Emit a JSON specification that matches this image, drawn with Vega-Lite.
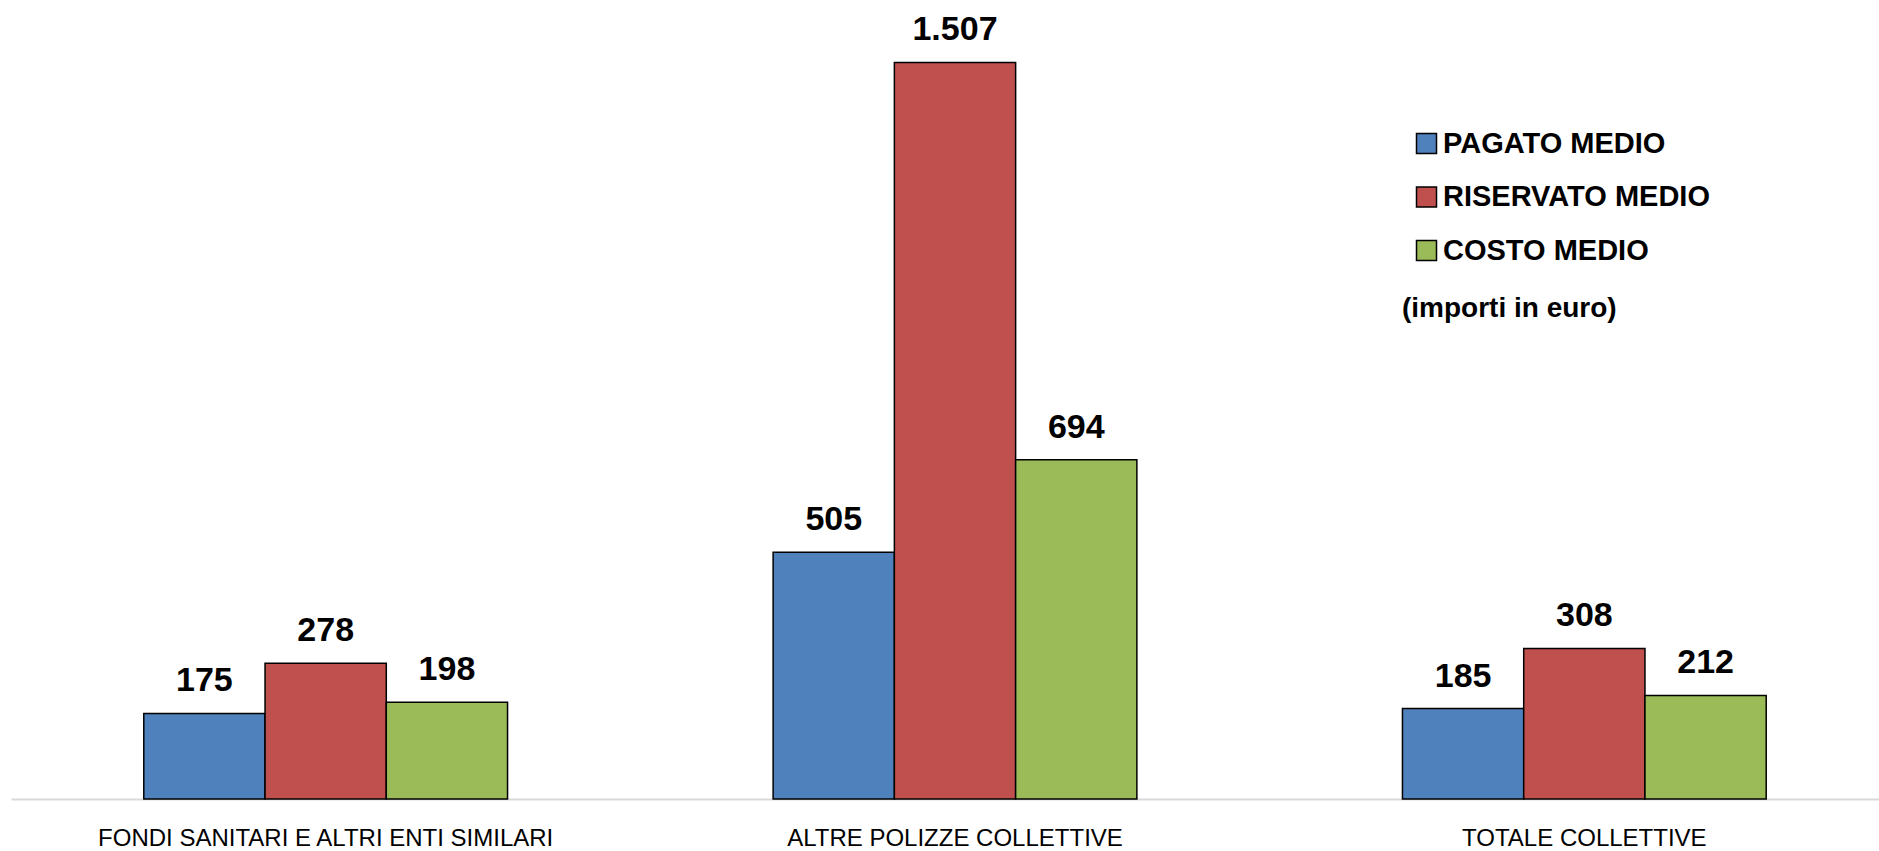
{
  "$schema": "https://vega.github.io/schema/vega-lite/v6.json",
  "autosize": "none",
  "width": 1868,
  "height": 782,
  "padding": {"left": 11, "top": 17, "right": 0, "bottom": 52},
  "background": "white",
  "config": {
    "view": {"stroke": null},
    "font": "Liberation Sans",
    "locale": {"number": {"decimal": ",", "thousands": ".", "grouping": [3], "currency": ["€", ""]}}
  },
  "data": {
    "values": [
      {"categoria": "FONDI SANITARI E ALTRI ENTI SIMILARI", "serie": "PAGATO MEDIO", "valore": 175},
      {"categoria": "FONDI SANITARI E ALTRI ENTI SIMILARI", "serie": "RISERVATO MEDIO", "valore": 278},
      {"categoria": "FONDI SANITARI E ALTRI ENTI SIMILARI", "serie": "COSTO MEDIO", "valore": 198},
      {"categoria": "ALTRE POLIZZE COLLETTIVE", "serie": "PAGATO MEDIO", "valore": 505},
      {"categoria": "ALTRE POLIZZE COLLETTIVE", "serie": "RISERVATO MEDIO", "valore": 1507},
      {"categoria": "ALTRE POLIZZE COLLETTIVE", "serie": "COSTO MEDIO", "valore": 694},
      {"categoria": "TOTALE COLLETTIVE", "serie": "PAGATO MEDIO", "valore": 185},
      {"categoria": "TOTALE COLLETTIVE", "serie": "RISERVATO MEDIO", "valore": 308},
      {"categoria": "TOTALE COLLETTIVE", "serie": "COSTO MEDIO", "valore": 212}
    ]
  },
  "encoding": {
    "x": {
      "field": "categoria",
      "type": "nominal",
      "sort": null,
      "scale": {"range": [0, 1888], "paddingInner": 0.422, "paddingOuter": 0.211},
      "axis": {
        "title": null,
        "labelAngle": 0,
        "ticks": false,
        "domainColor": "#d9d9d9",
        "domainWidth": 2,
        "labelFont": "Liberation Sans",
        "labelFontSize": 24,
        "labelColor": "#000000",
        "labelBaseline": "alphabetic",
        "labelPadding": 46,
        "labelLimit": 0
      }
    },
    "xOffset": {
      "field": "serie",
      "type": "nominal",
      "sort": ["PAGATO MEDIO", "RISERVATO MEDIO", "COSTO MEDIO"],
      "scale": {"paddingInner": 0, "paddingOuter": 0}
    },
    "y": {
      "field": "valore",
      "type": "quantitative",
      "scale": {"domain": [0, 1600], "nice": false},
      "axis": null
    }
  },
  "layer": [
    {
      "mark": {"type": "bar", "stroke": "#000000", "strokeWidth": 1.5},
      "encoding": {
        "color": {
          "field": "serie",
          "type": "nominal",
          "sort": ["PAGATO MEDIO", "RISERVATO MEDIO", "COSTO MEDIO"],
          "scale": {"domain": ["PAGATO MEDIO", "RISERVATO MEDIO", "COSTO MEDIO"], "range": ["#4F81BD", "#C0504D", "#9BBB59"]},
          "legend": {
            "title": "(importi in euro)",
            "titleOrient": "bottom",
            "titleAnchor": "start",
            "titleAlign": "left",
            "titleFont": "Liberation Sans",
            "titleFontSize": 28,
            "titleFontWeight": "bold",
            "titleColor": "#000000",
            "titlePadding": 29,
            "titleLimit": 0,
            "orient": "none",
            "legendX": 1391,
            "legendY": 112,
            "padding": 0,
            "symbolType": "square",
            "symbolSize": 400,
            "symbolStrokeColor": "#000000",
            "symbolStrokeWidth": 1.5,
            "symbolOffset": 10,
            "labelFont": "Liberation Sans",
            "labelFontSize": 29,
            "labelFontWeight": "bold",
            "labelColor": "#000000",
            "labelOffset": 2,
            "rowPadding": 23.5,
            "labelLimit": 0
          }
        }
      }
    },
    {
      "mark": {"type": "text", "baseline": "alphabetic", "dy": -22, "fontSize": 34, "fontWeight": "bold", "font": "Liberation Sans", "color": "#000000"},
      "encoding": {
        "text": {"field": "valore", "type": "quantitative", "format": ",d"}
      }
    }
  ]
}
